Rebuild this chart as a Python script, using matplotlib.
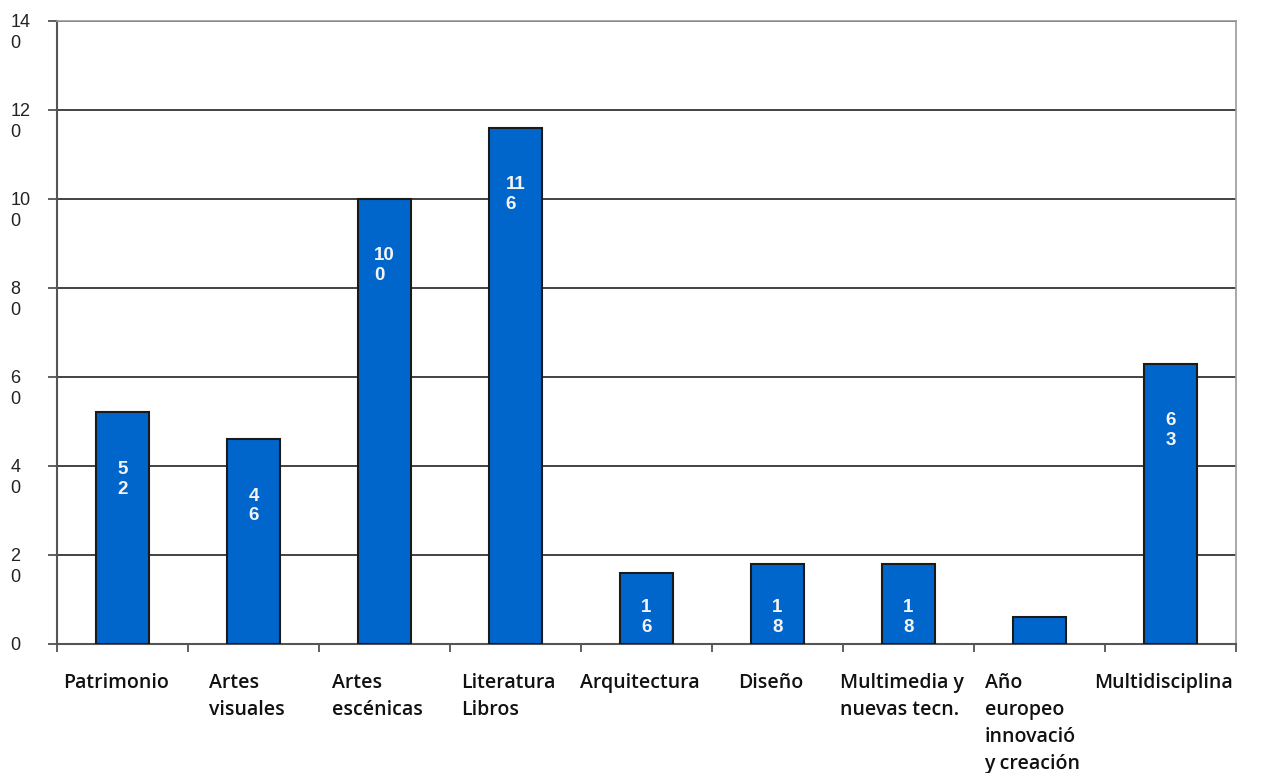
import matplotlib.pyplot as plt
import matplotlib.transforms as mtransforms
import numpy as np

# datos del gráfico
categorias = ['Patrimonio', 'Artes\nvisuales', 'Artes\nescénicas', 'Literatura\nLibros',
              'Arquitectura', 'Diseño', 'Multimedia y\nnuevas tecn.',
              'Año\neuropeo\ninnovació\ny creación', 'Multidisciplina']
valores = [52, 46, 100, 116, 16, 18, 18, 6, 63]
etiquetas = ['5\n2', '4\n6', '10\n0', '11\n6', '1\n6', '1\n8', '1\n8', '', '6\n3']
ticks_y = [0, 20, 40, 60, 80, 100, 120, 140]
ticks_y_txt = ['0', '2\n0', '4\n0', '6\n0', '8\n0', '10\n0', '12\n0', '14\n0']

fig = plt.figure(figsize=(12.67, 7.73), dpi=100)
ax = fig.add_axes([0.045, 0.167, 0.9305, 0.806])

x = np.arange(len(categorias))
ax.bar(x, valores, width=0.41, color='#0066CC', edgecolor='#1a1a1a', linewidth=1.5, zorder=3)

# etiquetas blancas dentro de las barras (las barras bajas no bajan de 6)
for xi, v, t in zip(x, valores, etiquetas):
    ax.text(xi, max(v - 15, 6), t, ha='center', va='center', multialignment='left',
            color='#f4f4f4', fontsize=13.5, fontweight='bold', family='Liberation Sans',
            linespacing=1.2, zorder=4)

ax.set_xlim(-0.5, len(categorias) - 0.5)
ax.set_ylim(0, 140)

# eje y
ax.set_yticks(ticks_y)
ax.set_yticklabels(ticks_y_txt, family='Liberation Sans', fontsize=13,
                   color='#222222', ha='left', va='top', linespacing=1.3)
ax.tick_params(axis='y', length=6.5, width=1.2, color='#444444', pad=27)
desplaza = mtransforms.ScaledTranslation(0, 4.7 / 72, fig.dpi_scale_trans)
for lab in ax.get_yticklabels():
    lab.set_transform(lab.get_transform() + desplaza)
ax.grid(axis='y', color='#222222', linewidth=1.2, zorder=0)

# eje x
ax.set_xticks(x)
ax.set_xticklabels(categorias, family='Open Sans', fontweight='semibold', fontsize=14,
                   color='#111111', multialignment='left', va='top', linespacing=1.46)
ax.tick_params(axis='x', length=0, pad=21)
izquierda = mtransforms.ScaledTranslation(-5 / 72, 0, fig.dpi_scale_trans)
for lab in ax.get_xticklabels():
    lab.set_transform(lab.get_transform() + izquierda)
ax.set_xticks(np.arange(len(categorias) + 1) - 0.5, minor=True)
ax.tick_params(axis='x', which='minor', length=6, width=1.2, color='#444444')

for lado in ['top', 'right']:
    ax.spines[lado].set_color('#999999')
    ax.spines[lado].set_linewidth(1.2)
ax.spines['left'].set_color('#555555')
ax.spines['left'].set_linewidth(1.5)
ax.spines['bottom'].set_color('#555555')
ax.spines['bottom'].set_linewidth(1.5)

fig.savefig('out.png', dpi=100)
